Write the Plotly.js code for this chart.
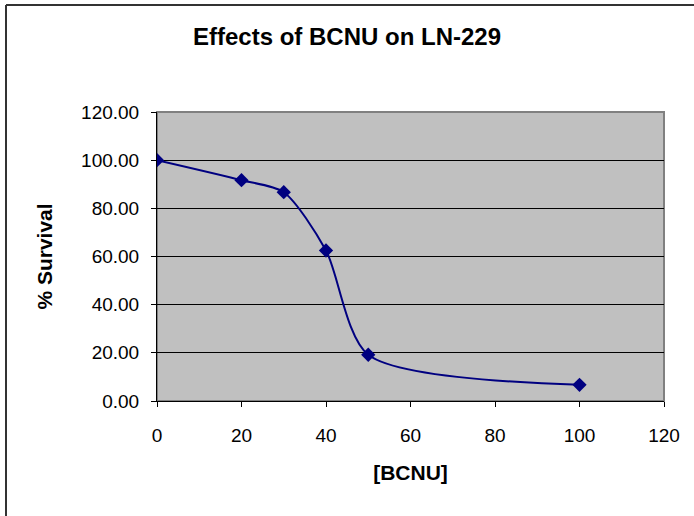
<!DOCTYPE html>
<html>
<head>
<meta charset="utf-8">
<script src="https://cdn.plot.ly/plotly-3.0.1.min.js"></script>
<style>
  html, body { margin: 0; padding: 0; background: #ffffff; }
  #chart { width: 694px; height: 516px; }
</style>
</head>
<body>
<div id="chart"></div>
<script>
// BCNU dose and the surviving fraction of LN-229 cells
const bcnuDose = [0, 20, 30, 40, 50, 100];
const survivalPct = [100.0, 91.7, 86.7, 62.5, 19.2, 6.7];
const xTickVals = [0, 20, 40, 60, 80, 100, 120];
const yTickVals = [0, 20, 40, 60, 80, 100, 120];
const yTickText = yTickVals.map(v => v.toFixed(2));

const margin = { l: 157, r: 30, t: 112, b: 115 };
const W = 694, H = 516;
const pw = W - margin.l - margin.r;
const ph = H - margin.t - margin.b;
// chart frame: top and left edges of the outer box
const frameLeft = (6 - margin.l) / pw;
const frameTop = (H - margin.b - 5) / ph;

const trace = {
  x: bcnuDose,
  y: survivalPct,
  type: 'scatter',
  mode: 'lines+markers',
  line: { color: '#000080', width: 2, shape: 'spline', smoothing: 0.75 },
  marker: { symbol: 'diamond', size: 11, color: '#000080' },
  hoverinfo: 'x+y'
};

const fam = '"Liberation Sans", Arial, sans-serif';

const layout = {
  width: W,
  height: H,
  margin: margin,
  paper_bgcolor: '#ffffff',
  plot_bgcolor: '#c0c0c0',
  showlegend: false,
  font: { family: fam, color: '#000' },
  title: {
    text: '<b>Effects of BCNU on LN-229</b>',
    font: { family: fam, size: 24, color: '#000' },
    xref: 'container', x: 0.5, xanchor: 'center',
    yref: 'container', y: 1 - 37 / H, yanchor: 'middle'
  },
  xaxis: {
    range: [0, 120],
    tickvals: xTickVals,
    ticktext: xTickVals.map(String),
    ticks: 'outside', ticklen: 5, tickcolor: '#000', tickwidth: 1,
    ticklabelstandoff: 12,
    showline: true, linecolor: '#000', linewidth: 1,
    showgrid: false, zeroline: false,
    tickfont: { family: fam, size: 19, color: '#000' },
    title: { text: '<b>[BCNU]</b>', font: { family: fam, size: 21, color: '#000' }, standoff: 20 }
  },
  yaxis: {
    range: [0, 120],
    tickvals: yTickVals,
    ticktext: yTickText,
    ticks: 'outside', ticklen: 5, tickcolor: '#000', tickwidth: 1,
    ticklabelstandoff: 8,
    showline: true, linecolor: '#000', linewidth: 1,
    showgrid: true, gridcolor: '#000', gridwidth: 1,
    zeroline: false,
    tickfont: { family: fam, size: 19, color: '#000' },
    title: { text: '<b>% Survival</b>', font: { family: fam, size: 21, color: '#000' }, standoff: 22 }
  },
  shapes: [
    // plot area outline
    { type: 'rect', xref: 'paper', yref: 'paper', x0: 0, x1: 1, y0: 0, y1: 1,
      line: { color: '#808080', width: 2 }, layer: 'below' },
    // outer frame edges
    { type: 'line', xref: 'paper', yref: 'paper', x0: frameLeft, x1: frameLeft,
      y0: -margin.b / ph - 0.01, y1: frameTop, line: { color: '#333', width: 2 } },
    { type: 'line', xref: 'paper', yref: 'paper', x0: frameLeft, x1: 1 + margin.r / pw + 0.01,
      y0: frameTop, y1: frameTop, line: { color: '#333', width: 2 } }
  ]
};

Plotly.newPlot('chart', [trace], layout, { displayModeBar: false, staticPlot: true });
</script>
</body>
</html>
